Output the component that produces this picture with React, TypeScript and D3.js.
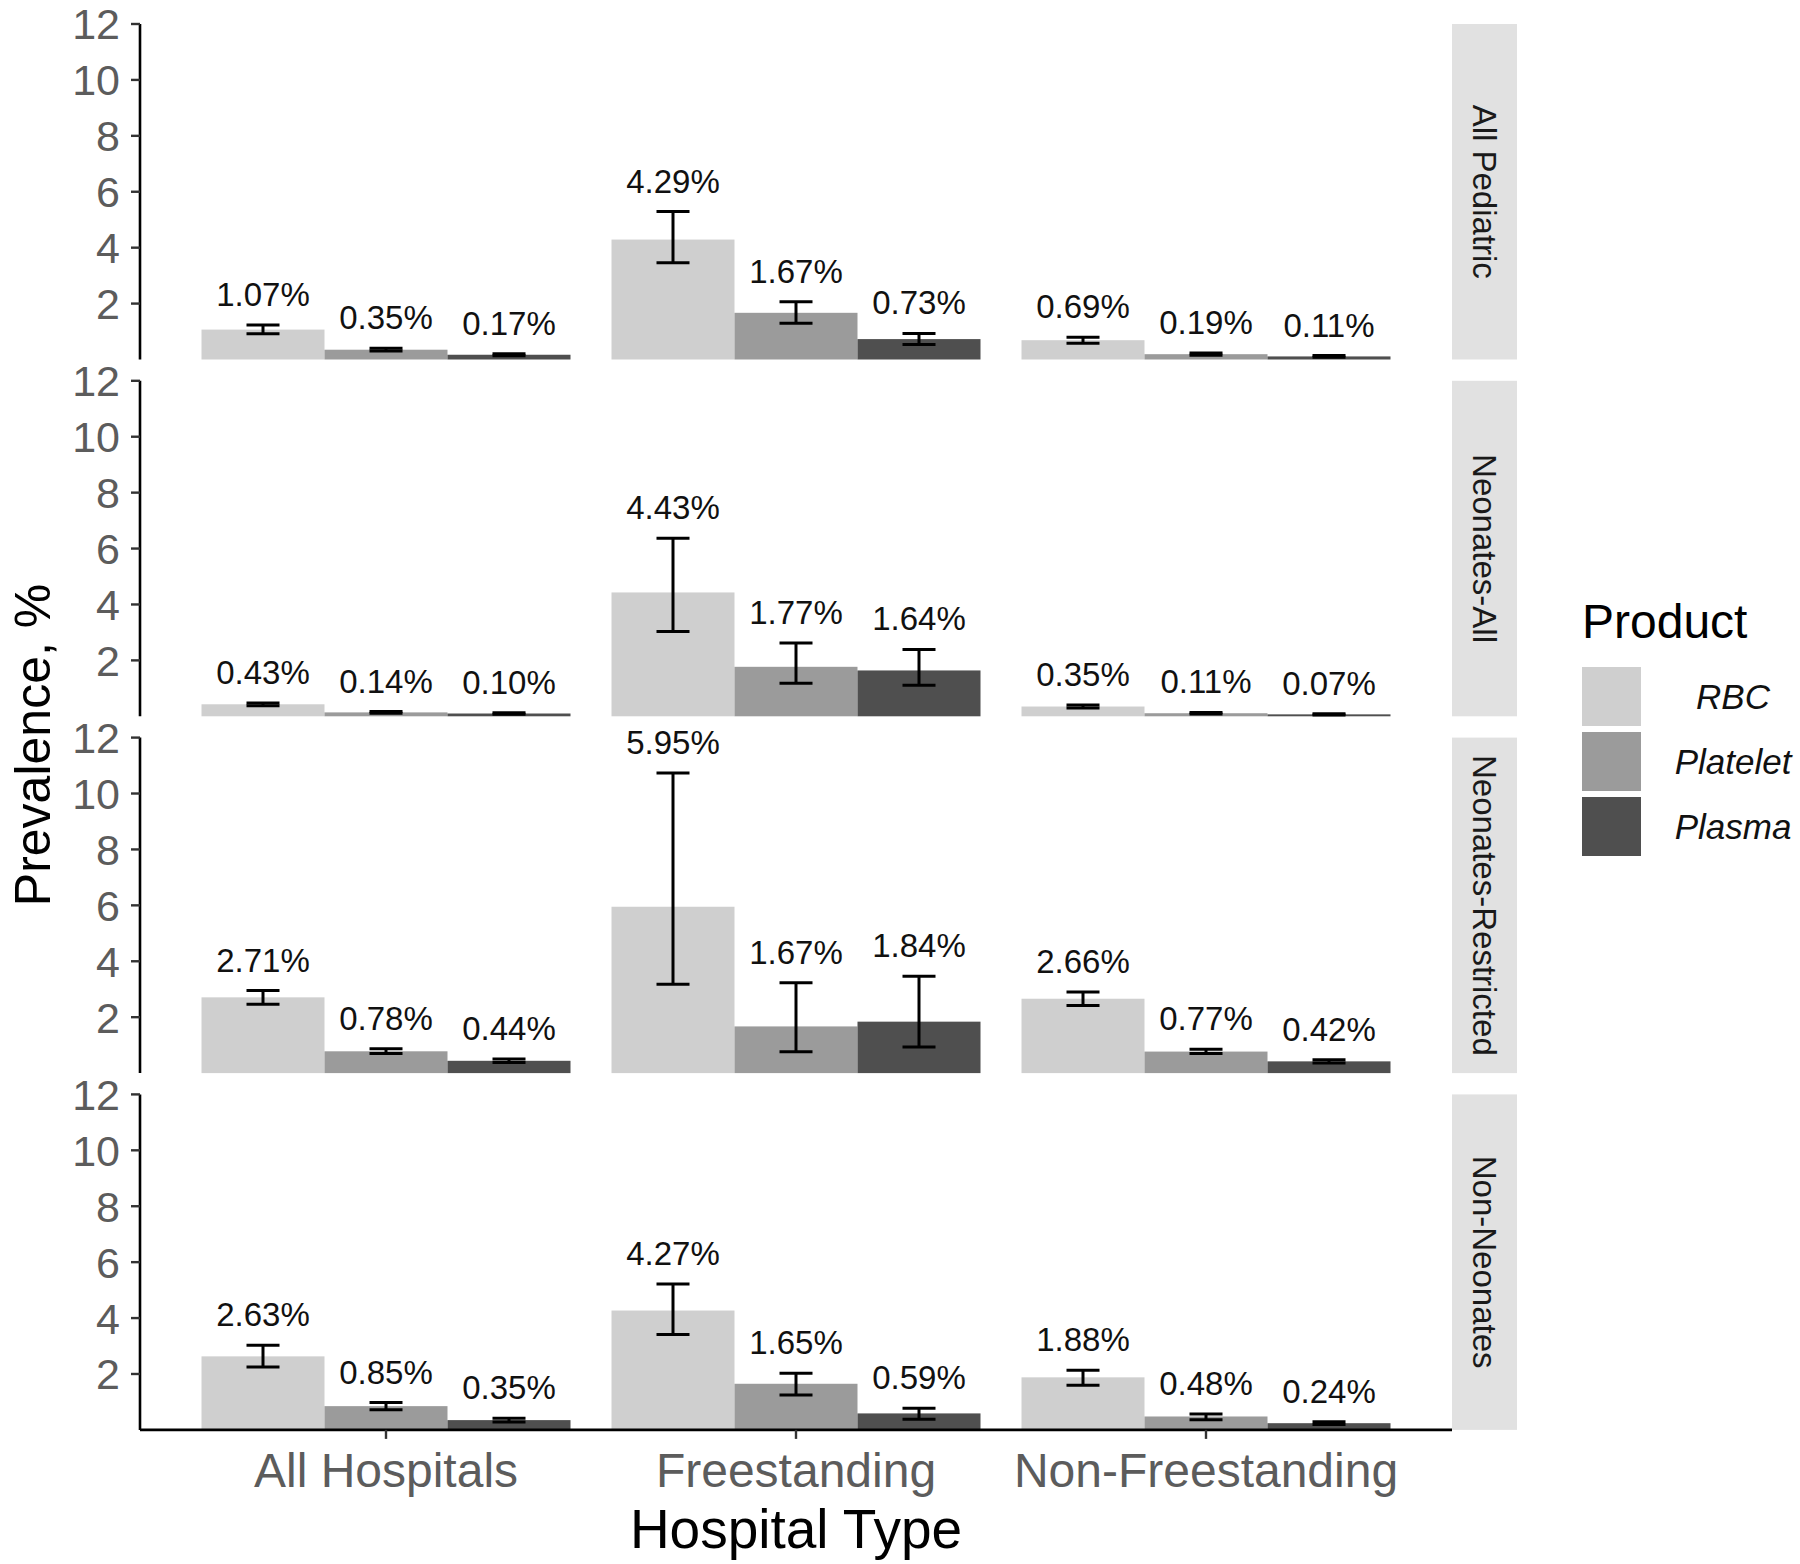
import * as React from 'react';
import {scaleBand, scaleLinear} from "d3";

const hospitals = ["All Hospitals", "Freestanding", "Non-Freestanding"];
const products = ["RBC", "Platelet", "Plasma"];
const cohorts = ["All Pediatric", "Neonates-All", "Neonates-Restricted", "Non-Neonates"];
const yTicks = [2, 4, 6, 8, 10, 12];

// values per cohort, hospital-major then product (RBC, Platelet, Plasma)
const allPediatric = [1.07, 0.35, 0.17, 4.29, 1.67, 0.73, 0.69, 0.19, 0.11];
const allPediatricLow = [0.92, 0.30, 0.13, 3.46, 1.30, 0.54, 0.58, 0.15, 0.08];
const allPediatricHigh = [1.23, 0.40, 0.21, 5.29, 2.07, 0.93, 0.80, 0.23, 0.14];

const neonatesAll = [0.43, 0.14, 0.10, 4.43, 1.77, 1.64, 0.35, 0.11, 0.07];
const neonatesAllLow = [0.38, 0.11, 0.07, 3.03, 1.18, 1.11, 0.30, 0.08, 0.05];
const neonatesAllHigh = [0.48, 0.17, 0.13, 6.37, 2.62, 2.39, 0.40, 0.14, 0.09];

const neonatesRestricted = [2.71, 0.78, 0.44, 5.95, 1.67, 1.84, 2.66, 0.77, 0.42];
const neonatesRestrictedLow = [2.46, 0.70, 0.38, 3.18, 0.76, 0.93, 2.42, 0.70, 0.36];
const neonatesRestrictedHigh = [2.95, 0.87, 0.50, 10.73, 3.23, 3.46, 2.90, 0.85, 0.48];

const nonNeonates = [2.63, 0.85, 0.35, 4.27, 1.65, 0.59, 1.88, 0.48, 0.24];
const nonNeonatesLow = [2.25, 0.72, 0.28, 3.41, 1.25, 0.38, 1.60, 0.36, 0.19];
const nonNeonatesHigh = [3.03, 0.98, 0.42, 5.22, 2.03, 0.77, 2.13, 0.57, 0.29];

const panelValues = [allPediatric, neonatesAll, neonatesRestricted, nonNeonates];
const panelLow = [allPediatricLow, neonatesAllLow, neonatesRestrictedLow, nonNeonatesLow];
const panelHigh = [allPediatricHigh, neonatesAllHigh, neonatesRestrictedHigh, nonNeonatesHigh];

const fills = ["#cfcfcf", "#9b9b9b", "#4f4f4f"];

const width = 1800;
const height = 1564;
const left = 140;
const right = 1452;
const panelTop = 24;
const panelH = 335.5;
const panelGap = 21.3;
const stripW = 65;
const font = "Arial, 'Liberation Sans', sans-serif";

const xScale = scaleBand()
    .domain(hospitals)
    .range([left, right])
    .paddingInner(0.1)
    .paddingOuter(0.15);

const pScale = scaleBand()
    .domain(products)
    .range([0, xScale.bandwidth()]);

const capW = 33;

const Panel = ({index}: {index: number}) => {
    const top = panelTop + index * (panelH + panelGap);
    const bottom = top + panelH;
    const y = scaleLinear().domain([0, 12]).range([bottom, top]);
    const vals = panelValues[index];
    const lows = panelLow[index];
    const highs = panelHigh[index];
    const isLast = index === cohorts.length - 1;

    const bars = [];
    hospitals.forEach((h, hi) => {
        products.forEach((p, pi) => {
            const k = hi * products.length + pi;
            const x0 = (xScale(h) || 0) + (pScale(p) || 0);
            const cx = x0 + pScale.bandwidth() / 2;
            bars.push(
                <g key={k}>
                    <rect x={x0} y={y(vals[k])} width={pScale.bandwidth()}
                          height={bottom - y(vals[k])} fill={fills[pi]}/>
                    <line x1={cx} x2={cx} y1={y(lows[k])} y2={y(highs[k])}
                          stroke="#000" strokeWidth={3}/>
                    <line x1={cx - capW / 2} x2={cx + capW / 2} y1={y(lows[k])} y2={y(lows[k])}
                          stroke="#000" strokeWidth={3}/>
                    <line x1={cx - capW / 2} x2={cx + capW / 2} y1={y(highs[k])} y2={y(highs[k])}
                          stroke="#000" strokeWidth={3}/>
                    <text x={cx} y={y(highs[k]) - 19} textAnchor="middle"
                          fontSize={33} fill="#111">{vals[k].toFixed(2) + "%"}</text>
                </g>
            );
        });
    });

    return (
        <g>
            {bars}
            <line x1={left} x2={left} y1={top} y2={bottom} stroke="#000" strokeWidth={2.6}/>
            {yTicks.map(t =>
                <g key={t}>
                    <line x1={left - 9} x2={left} y1={y(t)} y2={y(t)} stroke="#333" strokeWidth={2.4}/>
                    <text x={left - 20} y={y(t)} dy="0.36em" textAnchor="end"
                          fontSize={43} fill="#5c5c5c">{t}</text>
                </g>
            )}
            <rect x={right} y={top} width={stripW} height={panelH} fill="#e1e1e1"/>
            <text transform={`translate(${right + stripW / 2},${(top + bottom) / 2}) rotate(90)`}
                  textAnchor="middle" dy="0.36em" fontSize={33} fill="#1a1a1a">{cohorts[index]}</text>
            {isLast &&
                <g>
                    <line x1={left} x2={right} y1={bottom} y2={bottom} stroke="#000" strokeWidth={2.6}/>
                    {hospitals.map(h => {
                        const cx = (xScale(h) || 0) + xScale.bandwidth() / 2;
                        return (
                            <g key={h}>
                                <line x1={cx} x2={cx} y1={bottom} y2={bottom + 9} stroke="#333" strokeWidth={2.4}/>
                                <text x={cx} y={bottom + 57} textAnchor="middle" fontSize={48}
                                      fill="#5c5c5c">{h}</text>
                            </g>
                        );
                    })}
                </g>
            }
        </g>
    );
};

const App = () => {
    const legendX = 1582;
    const keyTop = 667;
    const keySize = 59;
    const keyStep = 65;
    return (
        <div style={{position: "absolute", left: 0, top: 0}}>
            <svg width={width} height={height} fontFamily={font} style={{display: "block", background: "#fff"}}>
                {cohorts.map((c, i) => <Panel key={c} index={i}/>)}
                <text transform={`translate(50,745) rotate(-90)`} textAnchor="middle"
                      fontSize={50} fill="#000">Prevalence, %</text>
                <text x={(left + right) / 2} y={1548} textAnchor="middle" fontSize={55}
                      fill="#000">Hospital Type</text>
                <text x={legendX} y={638} fontSize={48} fill="#000">Product</text>
                {products.map((p, i) =>
                    <g key={p}>
                        <rect x={legendX} y={keyTop + i * keyStep} width={keySize} height={keySize} fill={fills[i]}/>
                        <text x={1733} y={keyTop + i * keyStep + keySize / 2} dy="0.36em" textAnchor="middle"
                              fontSize={35} fontStyle="italic" fill="#111">{p}</text>
                    </g>
                )}
            </svg>
        </div>
    );
};

export default App;
